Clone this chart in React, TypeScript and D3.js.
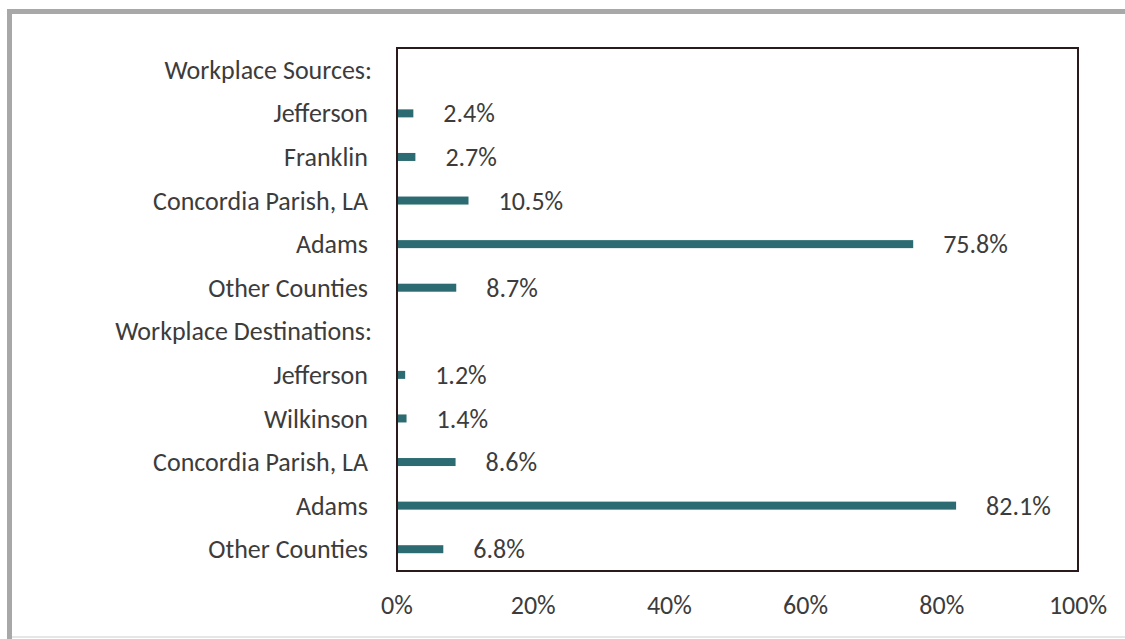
import React from "react";
import * as d3 from "d3";

const categories = [
  "Workplace Sources:",
  "Jefferson",
  "Franklin",
  "Concordia Parish, LA",
  "Adams",
  "Other Counties",
  "Workplace Destinations:",
  "Jefferson",
  "Wilkinson",
  "Concordia Parish, LA",
  "Adams",
  "Other Counties",
];
const values: (number | null)[] = [null, 2.4, 2.7, 10.5, 75.8, 8.7, null, 1.2, 1.4, 8.6, 82.1, 6.8];
const xTicks = [0, 20, 40, 60, 80, 100];

const W = 1125;
const H = 639;
const FONT = "Calibri, Carlito, Lato, sans-serif";
const TEXT = "#3c3c3c";
const FS = 26;

export default function App() {
  const x = d3.scaleLinear().domain([0, 100]).range([397, 1078]);
  const ids = categories.map((_, i) => String(i));
  const y = d3.scaleBand().domain(ids).range([48, 571]).padding(0);
  const barH = 8;

  return (
    <div style={{ position: "absolute", left: 0, top: 0 }}>
      <svg width={W} height={H} style={{ display: "block", background: "#fff" }}>
        {/* outer frame */}
        <line x1={7} x2={W} y1={11.5} y2={11.5} stroke="#a8a8a8" strokeWidth={5} />
        <line x1={9.5} x2={9.5} y1={9} y2={639} stroke="#a8a8a8" strokeWidth={5} />
        <line x1={12} x2={W} y1={637} y2={637} stroke="#e6e6e6" strokeWidth={2} />

        {/* bars */}
        {values.map((v, i) =>
          v == null ? null : (
            <rect
              key={"b" + i}
              x={x(0)}
              y={(y(ids[i]) as number) + y.bandwidth() / 2 - barH / 2}
              width={x(v) - x(0)}
              height={barH}
              fill="#2b6b71"
            />
          )
        )}

        {/* plot border */}
        <rect x={397} y={48} width={681} height={523} fill="none" stroke="#2a1a1c" strokeWidth={2} />

        {/* category labels */}
        {categories.map((c, i) => (
          <text
            key={"c" + i}
            x={values[i] == null ? 372 : 368}
            y={(y(ids[i]) as number) + y.bandwidth() / 2}
            dy="0.35em"
            textAnchor="end"
            fontFamily={FONT}
            fontSize={FS}
            fill={TEXT}
          >
            {c}
          </text>
        ))}

        {/* value labels */}
        {values.map((v, i) =>
          v == null ? null : (
            <text
              key={"v" + i}
              x={x(v) + 30}
              y={(y(ids[i]) as number) + y.bandwidth() / 2}
              dy="0.35em"
              textAnchor="start"
              fontFamily={FONT}
              fontSize={FS}
              fill={TEXT}
            >
              {v.toFixed(1) + "%"}
            </text>
          )
        )}

        {/* x tick labels */}
        {xTicks.map((t) => (
          <text
            key={"t" + t}
            x={x(t)}
            y={605}
            dy="0.35em"
            textAnchor="middle"
            fontFamily={FONT}
            fontSize={FS}
            fill={TEXT}
          >
            {t + "%"}
          </text>
        ))}
      </svg>
    </div>
  );
}
